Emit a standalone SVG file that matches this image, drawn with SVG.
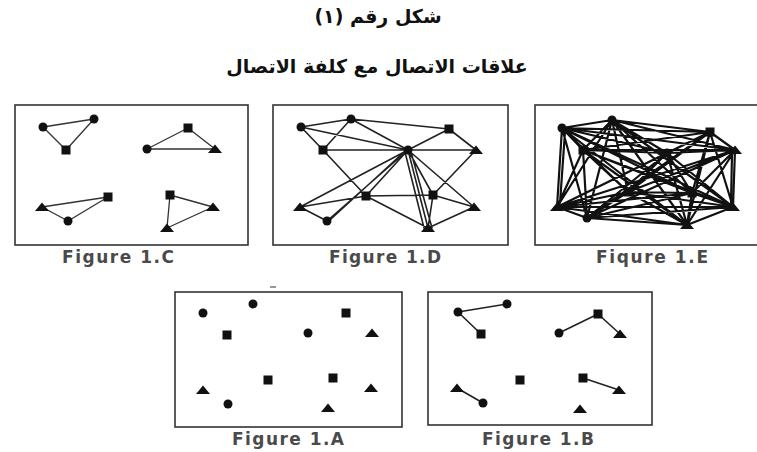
<svg xmlns="http://www.w3.org/2000/svg" xmlns:xlink="http://www.w3.org/1999/xlink" width="757" height="452" viewBox="0 0 757 452">
<style>
.title{font-family:"DejaVu Sans","Noto Sans",sans-serif;font-weight:bold;fill:#111;text-anchor:middle}
.lbl{font-family:"DejaVu Sans","Liberation Sans",sans-serif;font-weight:bold;font-size:17px;fill:#4a4a4a;text-anchor:middle}
.box{fill:#fff;stroke:#333;stroke-width:1.6}
.thin{stroke:#333;stroke-width:1.3;fill:none;stroke-linecap:round}
.med{stroke:#222;stroke-width:1.6;fill:none;stroke-linecap:round}
.thick{stroke:#111;stroke-width:2.2;fill:none;stroke-linecap:round}
.n{fill:#111}
</style>
<defs>
<circle id="dot" r="4.5"/>
<rect id="sq" x="-4.5" y="-4.5" width="9" height="9"/>
<path id="tri" d="M-7,4 L0,-4.5 L7,4 Z"/>
</defs>
<rect width="757" height="452" fill="#fff"/>
<text class="title" x="378" y="23" font-size="19" direction="rtl">شكل رقم (١)</text>
<text class="title" x="377" y="73" font-size="19" direction="rtl">علاقات الاتصال مع كلفة الاتصال</text>

<g id="frames">
<rect class="box" x="15" y="105" width="233" height="140"/>
<rect class="box" x="273" y="105" width="235" height="140"/>
<rect class="box" x="535" y="105" width="240" height="140"/>
<rect class="box" x="175" y="292" width="227" height="135"/>
<rect class="box" x="428" y="292" width="224" height="133"/>
<line x1="270" y1="287" x2="276" y2="287" stroke="#777" stroke-width="1.5"/>
</g>

<g id="labels">
<text class="lbl" x="118" y="263" textLength="112" lengthAdjust="spacing">Figure 1.C</text>
<text class="lbl" x="385" y="263" textLength="112" lengthAdjust="spacing">Figure 1.D</text>
<text class="lbl" x="652" y="263" textLength="112" lengthAdjust="spacing">Fiqure 1.E</text>
<text class="lbl" x="288" y="445" textLength="112" lengthAdjust="spacing">Figure 1.A</text>
<text class="lbl" x="538" y="445" textLength="112" lengthAdjust="spacing">Figure 1.B</text>
</g>

<g id="connectors">
<!-- Figure C -->
<path class="thin" d="M43 127L94 119M43 127L66 150M94 119L66 150M147 149L188 128M147 149L215 149M188 128L215 149M42 207L108 197M42 207L68 221M108 197L68 221M170 195L213 207M170 195L167 228M213 207L167 228"/>
<!-- Figure D -->
<path class="med" d="M301 127L351 119M301 127L323 150M301 127L408 150M351 119L323 150M351 119L408 150M351 119L449 129M323 150L408 150M408 150L449 129M408 150L476 150M449 129L476 150M323 150L366 196M476 150L433 195M408 150L300 207M408 150L366 196M408 150L327 221M404 152L331 219M408 150L433 195M408 150L428 228M405 152L424 228M411 152L432 228M408 150L474 207M300 207L366 196M300 207L327 221M366 196L433 195M366 196L428 228M433 195L474 207M428 228L474 207M433 195L428 228"/>
<!-- Figure E -->
<path class="thick" d="M562 128L612 120M562 128L710 132M562 128L583 150M562 128L667 153M562 128L735 150M562 128L557 207M562 128L628 192M562 128L692 193M562 128L733 207M562 128L587 218M562 128L687 225M612 120L710 132M612 120L583 150M612 120L667 153M612 120L735 150M612 120L557 207M612 120L628 192M612 120L692 193M612 120L733 207M612 120L587 218M612 120L687 225M710 132L583 150M710 132L667 153M710 132L735 150M710 132L557 207M710 132L628 192M710 132L692 193M710 132L733 207M710 132L587 218M710 132L687 225M583 150L667 153M583 150L735 150M583 150L557 207M583 150L628 192M583 150L692 193M583 150L733 207M583 150L587 218M583 150L687 225M667 153L735 150M667 153L557 207M667 153L628 192M667 153L692 193M667 153L733 207M667 153L587 218M667 153L687 225M735 150L557 207M735 150L628 192M735 150L692 193M735 150L733 207M735 150L587 218M735 150L687 225M557 207L628 192M557 207L692 193M557 207L733 207M557 207L587 218M557 207L687 225M628 192L692 193M628 192L733 207M628 192L587 218M628 192L687 225M692 193L733 207M692 193L587 218M692 193L687 225M733 207L587 218M733 207L687 225M587 218L687 225M565 132L560 203M732 154L731 203"/>
<!-- Figure B -->
<path class="med" d="M458 312L507 304M458 312L481 334M559 333L598 314M598 314L620 334M583 378L619 390M457 388L483 403"/>
</g>

<!-- Figure C nodes -->
<g id="c1" class="n"><use xlink:href="#dot" x="43" y="127"/></g>
<g id="c2" class="n"><use xlink:href="#dot" x="94" y="119"/></g>
<g id="c3" class="n"><use xlink:href="#sq" x="66" y="150"/></g>
<g id="c4" class="n"><use xlink:href="#sq" x="188" y="128"/></g>
<g id="c5" class="n"><use xlink:href="#dot" x="147" y="149"/></g>
<g id="c6" class="n"><use xlink:href="#tri" x="215" y="149"/></g>
<g id="c7" class="n"><use xlink:href="#tri" x="42" y="207"/></g>
<g id="c8" class="n"><use xlink:href="#sq" x="108" y="197"/></g>
<g id="c9" class="n"><use xlink:href="#dot" x="68" y="221"/></g>
<g id="c10" class="n"><use xlink:href="#sq" x="170" y="195"/></g>
<g id="c11" class="n"><use xlink:href="#tri" x="213" y="207"/></g>
<g id="c12" class="n"><use xlink:href="#tri" x="167" y="228"/></g>

<!-- Figure D nodes -->
<g id="d1" class="n"><use xlink:href="#dot" x="301" y="127"/></g>
<g id="d2" class="n"><use xlink:href="#dot" x="351" y="119"/></g>
<g id="d3" class="n"><use xlink:href="#sq" x="449" y="129"/></g>
<g id="d4" class="n"><use xlink:href="#sq" x="323" y="150"/></g>
<g id="d5" class="n"><use xlink:href="#dot" x="408" y="150"/></g>
<g id="d6" class="n"><use xlink:href="#tri" x="476" y="150"/></g>
<g id="d7" class="n"><use xlink:href="#tri" x="300" y="207"/></g>
<g id="d8" class="n"><use xlink:href="#sq" x="366" y="196"/></g>
<g id="d9" class="n"><use xlink:href="#sq" x="433" y="195"/></g>
<g id="d10" class="n"><use xlink:href="#tri" x="474" y="207"/></g>
<g id="d11" class="n"><use xlink:href="#dot" x="327" y="221"/></g>
<g id="d12" class="n"><use xlink:href="#tri" x="428" y="228"/></g>

<!-- Figure E nodes -->
<g id="e1" class="n"><use xlink:href="#dot" x="562" y="128"/></g>
<g id="e2" class="n"><use xlink:href="#dot" x="612" y="120"/></g>
<g id="e3" class="n"><use xlink:href="#sq" x="710" y="132"/></g>
<g id="e4" class="n"><use xlink:href="#sq" x="583" y="150"/></g>
<g id="e5" class="n"><use xlink:href="#dot" x="667" y="153"/></g>
<g id="e6" class="n"><use xlink:href="#tri" x="735" y="150"/></g>
<g id="e7" class="n"><use xlink:href="#tri" x="557" y="207"/></g>
<g id="e8" class="n"><use xlink:href="#sq" x="628" y="192"/></g>
<g id="e9" class="n"><use xlink:href="#sq" x="692" y="193"/></g>
<g id="e10" class="n"><use xlink:href="#tri" x="733" y="207"/></g>
<g id="e11" class="n"><use xlink:href="#dot" x="587" y="218"/></g>
<g id="e12" class="n"><use xlink:href="#tri" x="687" y="225"/></g>

<!-- Figure A nodes -->
<g id="a1" class="n"><use xlink:href="#dot" x="203" y="313"/></g>
<g id="a2" class="n"><use xlink:href="#dot" x="253" y="304"/></g>
<g id="a3" class="n"><use xlink:href="#sq" x="346" y="313"/></g>
<g id="a4" class="n"><use xlink:href="#sq" x="227" y="335"/></g>
<g id="a5" class="n"><use xlink:href="#dot" x="308" y="333"/></g>
<g id="a6" class="n"><use xlink:href="#tri" x="372" y="333"/></g>
<g id="a7" class="n"><use xlink:href="#tri" x="203" y="390"/></g>
<g id="a8" class="n"><use xlink:href="#sq" x="268" y="380"/></g>
<g id="a9" class="n"><use xlink:href="#sq" x="333" y="378"/></g>
<g id="a10" class="n"><use xlink:href="#tri" x="371" y="388"/></g>
<g id="a11" class="n"><use xlink:href="#dot" x="228" y="404"/></g>
<g id="a12" class="n"><use xlink:href="#tri" x="328" y="408"/></g>

<!-- Figure B nodes -->
<g id="b1" class="n"><use xlink:href="#dot" x="458" y="312"/></g>
<g id="b2" class="n"><use xlink:href="#dot" x="507" y="304"/></g>
<g id="b3" class="n"><use xlink:href="#sq" x="598" y="314"/></g>
<g id="b4" class="n"><use xlink:href="#sq" x="481" y="334"/></g>
<g id="b5" class="n"><use xlink:href="#dot" x="559" y="333"/></g>
<g id="b6" class="n"><use xlink:href="#tri" x="620" y="334"/></g>
<g id="b7" class="n"><use xlink:href="#tri" x="457" y="388"/></g>
<g id="b8" class="n"><use xlink:href="#sq" x="520" y="380"/></g>
<g id="b9" class="n"><use xlink:href="#sq" x="583" y="378"/></g>
<g id="b10" class="n"><use xlink:href="#tri" x="619" y="390"/></g>
<g id="b11" class="n"><use xlink:href="#dot" x="483" y="403"/></g>
<g id="b12" class="n"><use xlink:href="#tri" x="580" y="409"/></g>
</svg>
